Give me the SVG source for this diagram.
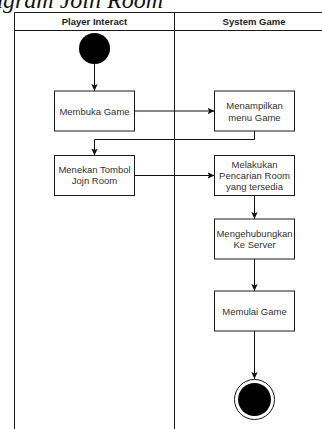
<svg xmlns="http://www.w3.org/2000/svg" width="322" height="429" viewBox="0 0 322 429">
  <style>
    .lane { fill: none; stroke: #1a1a1a; stroke-width: 1; }
    .head { font-family: "Liberation Sans", Arial, sans-serif; font-size: 9.5px; font-weight: bold; fill: #222; text-anchor: middle; }
    .box { fill: #ffffff; stroke: #1a1a1a; stroke-width: 1; }
    .lbl { font-family: "Liberation Sans", Arial, sans-serif; font-size: 9.5px; fill: #333; text-anchor: middle; }
    .edge { fill: none; stroke: #111; stroke-width: 1; marker-end: url(#arrow); }
    .caption { font-family: "Liberation Serif", "Times New Roman", serif; font-style: italic; font-size: 24px; fill: #111; text-anchor: end; }
  </style>
  <defs>
    <marker id="arrow" markerUnits="userSpaceOnUse" markerWidth="8" markerHeight="8" refX="7" refY="4" orient="auto">
      <path d="M0,0.8 L7,4 L0,7.2 L1.6,4 Z" fill="#111"/>
    </marker>
  </defs>
  <rect width="322" height="429" fill="#ffffff"/>

  <!-- caption above the diagram, clipped at the top -->
  <text class="caption" x="163" y="7.5">Activity Diagram Join Room</text>

  <!-- swimlanes -->
  <g id="lanes">
    <path class="lane" d="M14.5,429 V12.5 H322 M14.5,30.5 H322 M174.5,12.5 V429"/>
    <text class="head" x="94.5" y="24.5">Player Interact</text>
    <text class="head" x="254" y="24.5">System Game</text>
  </g>

  <!-- connectors -->
  <g id="connectors">
    <path class="edge" d="M94.5,64 V91"/>
    <path class="edge" d="M134.5,111 H214.5"/>
    <path class="edge" d="M254.5,131 V139.5 H94.5 V155.5"/>
    <path class="edge" d="M134.5,175.5 H214.5"/>
    <path class="edge" d="M254.5,195.5 V219"/>
    <path class="edge" d="M254.5,259 V291"/>
    <path class="edge" d="M254.5,331 V379"/>
  </g>

  <g id="start">
    <circle cx="94.5" cy="48.5" r="15.5" fill="#000"/>
  </g>

  <g id="membuka-game">
    <rect class="box" x="54.5" y="91" width="80" height="40"/>
    <text class="lbl" x="94.5" y="114.5">Membuka Game</text>
  </g>

  <g id="menampilkan-menu">
    <rect class="box" x="214.5" y="91" width="80" height="40"/>
    <text class="lbl" x="254.5" y="109">Menampilkan</text>
    <text class="lbl" x="254.5" y="120.5">menu Game</text>
  </g>

  <g id="menekan-tombol">
    <rect class="box" x="54.5" y="155.5" width="80" height="40"/>
    <text class="lbl" x="94.5" y="172.5">Menekan Tombol</text>
    <text class="lbl" x="94.5" y="184">Jojn Room</text>
  </g>

  <g id="melakukan-pencarian">
    <rect class="box" x="214.5" y="155.5" width="80" height="40"/>
    <text class="lbl" x="254.5" y="167.5">Melakukan</text>
    <text class="lbl" x="254.5" y="178.5">Pencarian Room</text>
    <text class="lbl" x="254.5" y="189.5">yang tersedia</text>
  </g>

  <g id="mengehubungkan">
    <rect class="box" x="214.5" y="219" width="80" height="40"/>
    <text class="lbl" x="254.5" y="236.5">Mengehubungkan</text>
    <text class="lbl" x="254.5" y="248">Ke Server</text>
  </g>

  <g id="memulai-game">
    <rect class="box" x="214.5" y="291" width="80" height="40"/>
    <text class="lbl" x="254.5" y="314.5">Memulai Game</text>
  </g>

  <g id="end">
    <circle cx="254.5" cy="399.5" r="20" fill="#fff" stroke="#111" stroke-width="1"/>
    <circle cx="254.5" cy="399.5" r="16.5" fill="#000"/>
  </g>
</svg>
